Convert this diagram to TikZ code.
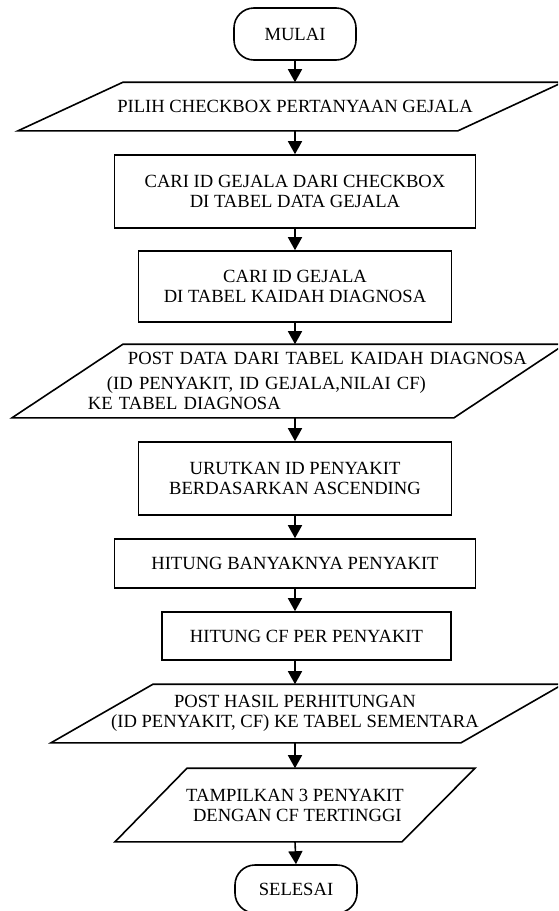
\documentclass[tikz,border=0pt]{standalone}
\usepackage{fontspec}
\setmainfont{Liberation Serif}
\usetikzlibrary{arrows.meta,calc}
\begin{document}
\begin{tikzpicture}[x=1pt,y=-1pt,line width=1.6pt,
  every node/.style={font=\fontsize{18.6}{20}\selectfont},
  proc/.style={draw,rectangle,inner sep=0pt,align=center},
  term/.style={draw,rectangle,rounded corners=20pt,inner sep=0pt,minimum width=122pt},
  io/.style={rectangle,inner sep=0pt,align=center},
  flow/.style={-{Triangle[length=13pt,width=14pt]}}]
\useasboundingbox (0,0) rectangle (558,911);
\clip (0,0) rectangle (558,911);

% terminators and process boxes
\node[term,minimum height=52pt] (start) at (295,34) {MULAI};
\node[io,minimum width=300pt,minimum height=47pt] (p1) at (295,106.5) {PILIH CHECKBOX PERTANYAAN GEJALA};
\node[proc,minimum width=361pt,minimum height=73pt] (b2) at (295,191.5) {CARI ID GEJALA DARI CHECKBOX\\DI TABEL DATA GEJALA};
\node[proc,minimum width=313pt,minimum height=71pt] (b3) at (295,286.5) {CARI ID GEJALA\\DI TABEL KAIDAH DIAGNOSA};
\node[io,minimum height=72pt,text width=560pt,align=left] (p4) at (295,381)
  {\hspace*{113pt}POST DATA DARI TABEL KAIDAH DIAGNOSA\\[5pt]\hspace*{92pt}(ID PENYAKIT, ID GEJALA,NILAI CF)\\\hspace*{73pt}KE TABEL DIAGNOSA};
\node[proc,minimum width=313pt,minimum height=73pt] (b5) at (295,478.5) {URUTKAN ID PENYAKIT\\BERDASARKAN ASCENDING};
\node[proc,minimum width=361pt,minimum height=49pt] (b6) at (295,563.5) {HITUNG BANYAKNYA PENYAKIT};
\node[proc,minimum width=289pt,minimum height=48pt] (b7) at (306.5,636) {HITUNG CF PER PENYAKIT};
\node[io,minimum width=300pt,minimum height=57pt] (p8) at (295,713.5) {POST HASIL PERHITUNGAN\\(ID PENYAKIT, CF) KE TABEL SEMENTARA};
\node[io,minimum width=200pt,minimum height=72pt] (p9) at (295,805) {TAMPILKAN 3 PENYAKIT\\\ DENGAN CF TERTINGGI};
\node[term,minimum height=48pt] (end) at (296,889) {SELESAI};

% parallelogram outlines
\draw ($(p1.south)+(-277,0)$) -- ($(p1.south)+(163,0)$) -- ($(p1.north)+(268,0)$) -- ($(p1.north)+(-172,0)$) -- cycle;
\draw ($(p4.south)+(-283,0)$) -- ($(p4.south)+(159,0)$) -- ($(p4.north)+(270,0)$) -- ($(p4.north)+(-172,0)$) -- cycle;
\draw ($(p8.south)+(-244,0)$) -- ($(p8.south)+(166,0)$) -- ($(p8.north)+(268,0)$) -- ($(p8.north)+(-142,0)$) -- cycle;
\draw ($(p9.south)+(-180,0)$) -- ($(p9.south)+(107,0)$) -- ($(p9.north)+(180,0)$) -- ($(p9.north)+(-108,0)$) -- cycle;

% flow lines
\draw[flow] (start.south) -- (p1.north);
\draw[flow] (p1.south) -- (b2.north);
\draw[flow] (b2.south) -- (b3.north);
\draw[flow] (b3.south) -- (p4.north);
\draw[flow] (p4.south) -- (b5.north);
\draw[flow] (b5.south) -- (b6.north);
\draw[flow] (b6.south) -- (b6.south |- b7.north);
\draw[flow] (b7.south -| p8.north) -- (p8.north);
\draw[flow] (p8.south) -- (p9.north);
\draw[flow] (p9.south) -- (end.north);
\end{tikzpicture}
\end{document}
